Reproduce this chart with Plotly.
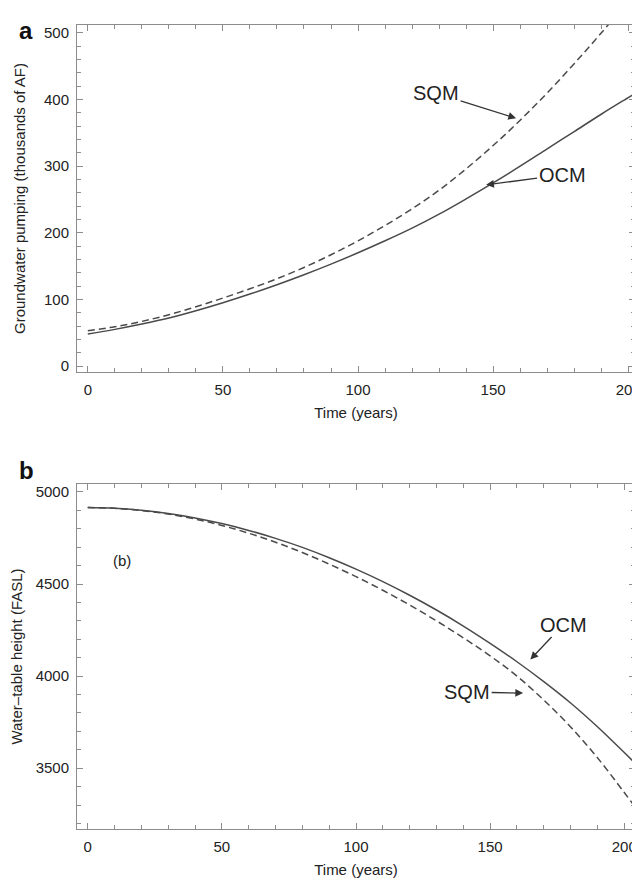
import plotly.graph_objects as go

# ---- data: panel a (groundwater pumping, thousands of AF) ----
time_a = [0, 10, 20, 30, 40, 50, 60, 70, 80, 90, 100, 110, 120, 130, 140,
          150, 160, 170, 180, 190, 200, 202]
ocm_pumping = [48, 55, 63, 72, 83, 95, 108, 122, 137, 153, 170, 188, 207, 228,
               251, 275, 300, 326, 352, 378, 403, 408]
sqm_pumping = [53, 59, 67, 77, 89, 102, 116, 131, 148, 167, 188, 211, 236, 264,
               296, 331, 369, 410, 454, 500, 548, 558]

# ---- data: panel b (water-table height, FASL) ----
time_b = [0, 10, 20, 30, 40, 50, 60, 70, 80, 90, 100, 110, 120, 130, 140,
          150, 160, 170, 180, 190, 200, 204]
ocm_height = [4915, 4911, 4900, 4883, 4859, 4828, 4791, 4748, 4699, 4643, 4581,
              4513, 4439, 4359, 4272, 4178, 4078, 3970, 3854, 3725, 3585, 3528]
sqm_height = [4915, 4911, 4899, 4880, 4853, 4818, 4776, 4727, 4671, 4608, 4540,
              4466, 4386, 4300, 4208, 4110, 4000, 3870, 3724, 3557, 3368, 3290]

x_ticks = [0, 50, 100, 150, 200]
ya_ticks = [0, 100, 200, 300, 400, 500]
yb_ticks = [3500, 4000, 4500, 5000]

FONT = "Liberation Sans, Arial, Helvetica, sans-serif"
LINE = "#4a4a4a"
AX = "#8c8c8c"
TXT = "#222222"

fig = go.Figure()
fig.add_trace(go.Scatter(x=time_a, y=ocm_pumping, mode="lines", name="OCM",
                         line=dict(color=LINE, width=1.5, shape="spline"),
                         xaxis="x", yaxis="y"))
fig.add_trace(go.Scatter(x=time_a, y=sqm_pumping, mode="lines", name="SQM",
                         line=dict(color=LINE, width=1.5, dash="7px,4px", shape="spline"),
                         xaxis="x", yaxis="y"))
fig.add_trace(go.Scatter(x=time_b, y=ocm_height, mode="lines", name="OCM",
                         line=dict(color=LINE, width=1.5, shape="spline"),
                         xaxis="x2", yaxis="y2"))
fig.add_trace(go.Scatter(x=time_b, y=sqm_height, mode="lines", name="SQM",
                         line=dict(color=LINE, width=1.5, dash="7px,4px", shape="spline"),
                         xaxis="x2", yaxis="y2"))

def axis_common(**kw):
    d = dict(showline=True, linecolor=AX, linewidth=1, mirror="allticks",
             ticks="inside", ticklen=6, tickcolor=AX, tickwidth=1,
             showgrid=False, zeroline=False, automargin=False,
             ticklabeloverflow="allow", ticklabelstandoff=4,
             tickfont=dict(family=FONT, size=15, color=TXT))
    d.update(kw)
    return d

# the page body has an 8px default margin, so the figure is offset by 8px
fig.update_layout(
    width=632, height=873,
    margin=dict(l=69, r=5, t=17, b=52),
    plot_bgcolor="white", paper_bgcolor="white",
    showlegend=False,
    xaxis=axis_common(domain=[0, 1], anchor="y", range=[-4, 202.5],
                      tickvals=x_ticks,
                      minor=dict(dtick=10, tick0=0, ticklen=4, ticks="inside", tickcolor=AX),
                      title=dict(text="Time (years)", standoff=10,
                                 font=dict(family=FONT, size=15, color=TXT))),
    yaxis=axis_common(domain=[0.5684, 1], anchor="x", range=[-9, 512],
                      tickvals=ya_ticks,
                      minor=dict(dtick=20, tick0=0, ticklen=4, ticks="inside", tickcolor=AX),
                      title=dict(text="Groundwater pumping (thousands of AF)", standoff=14,
                                 font=dict(family=FONT, size=15, color=TXT))),
    xaxis2=axis_common(domain=[0, 1], anchor="y2", range=[-4, 204],
                       tickvals=x_ticks,
                       minor=dict(dtick=10, tick0=0, ticklen=4, ticks="inside", tickcolor=AX),
                       title=dict(text="Time (years)", standoff=10,
                                  font=dict(family=FONT, size=15, color=TXT))),
    yaxis2=axis_common(domain=[0, 0.4291], anchor="x2", range=[3170, 5043],
                       tickvals=yb_ticks,
                       minor=dict(dtick=100, tick0=0, ticklen=4, ticks="inside", tickcolor=AX),
                       title=dict(text="Water–table height (FASL)", standoff=12,
                                  font=dict(family=FONT, size=15, color=TXT))),
)

lab = dict(family=FONT, size=20, color=TXT)
arrow = dict(showarrow=True, arrowhead=2, arrowsize=1.2, arrowwidth=1.3,
             arrowcolor="#333", axref="pixel", ayref="pixel")
annotations = [
    # panel letters
    dict(text="<b>a</b>", xref="paper", yref="paper", x=-0.108, y=1.012,
         showarrow=False, font=dict(family=FONT, size=24, color="#111")),
    dict(text="<b>b</b>", xref="paper", yref="paper", x=-0.108, y=0.4465,
         showarrow=False, font=dict(family=FONT, size=24, color="#111")),
    # panel a labels
    dict(text="SQM", x=158.5, y=372, xref="x", yref="y", ax=-80, ay=-25,
         font=lab, **arrow),
    dict(text="OCM", x=147.4, y=272, xref="x", yref="y", ax=76, ay=-10,
         font=lab, **arrow),
    # panel b labels
    dict(text="(b)", x=12.7, y=4630, xref="x2", yref="y2", showarrow=False,
         font=dict(family=FONT, size=15, color=TXT)),
    dict(text="OCM", x=165, y=4090, xref="x2", yref="y2", ax=33, ay=-35,
         font=lab, **arrow),
    dict(text="SQM", x=162.3, y=3908, xref="x2", yref="y2", ax=-56, ay=-1,
         font=lab, **arrow),
]
fig.update_layout(annotations=annotations)

fig.write_html("out.html")
